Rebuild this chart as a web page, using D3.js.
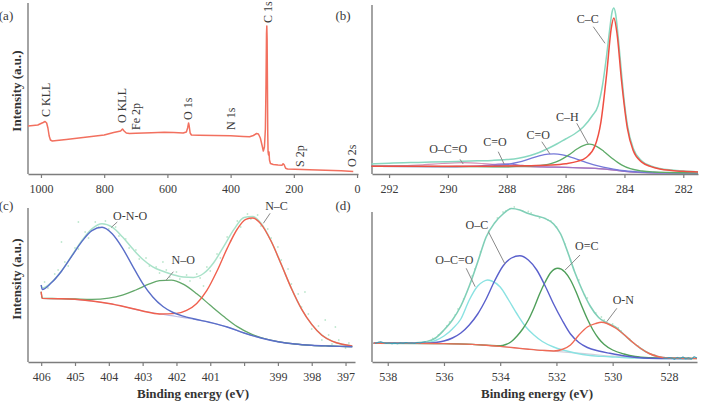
<!DOCTYPE html>
<html><head><meta charset="utf-8">
<script src="https://cdn.jsdelivr.net/npm/d3@7"></script>
<style>
body{margin:0;background:#fff}
svg{display:block}
text{font-family:"Liberation Serif","Times New Roman",serif;fill:#3a3a3a}
</style>
</head><body>
<svg id="chart" width="702" height="406"></svg>
<script>
// ---------------- DATA ----------------
// (a) survey spectrum: [binding energy eV, intensity a.u.]
const surveyA = [[1041,48],[1025,48.5],[1010,49],[1000,50.5],[993,51.5],[987,52.5],[982,51],[978,46],[974,38],[970,34],[964,33],[950,33.5],[920,34.5],[880,36],[840,37.5],[800,39],[770,41.5],[755,42.5],[748,43],[742,45],[737,43],[730,41],[720,40.5],[700,40.8],[650,41.3],[610,41.8],[580,41.5],[550,41],[540,42],[536,46],[533,51],[531,48],[528,41],[524,39],[500,38.8],[450,38.5],[400,38.2],[360,37.5],[340,37.2],[328,38.5],[318,40.5],[312,40],[306,36],[300,28],[296.5,23],[293,27],[290,45],[288,90],[286.5,140],[285.5,148],[284.5,135],[283.5,90],[282.5,40],[281.5,22],[280,19],[278.5,22],[277,14],[274,10.5],[265,9.5],[250,9],[237,8.8],[234,10.3],[231,9.5],[226,5.8],[220,5],[150,4.3],[100,3.8],[50,3.2],[12,2.5]];
const surveyLabels = ["C KLL","O KLL","Fe 2p","O 1s","N 1s","C 1s","S 2p","O 2s"];
const ticksA = [1000,800,600,400,200,0];

// (b) C 1s high resolution
const envB = [[292.6,10],[292,10.8],[291,11.6],[290,12.3],[289.5,12.8],[289,13.2],[288.5,13.6],[288,14.4],[287.6,15.8],[287.2,18.5],[286.9,21.5],[286.6,25.5],[286.3,30],[286,35],[285.7,40],[285.4,47],[285.1,58],[284.9,68],[284.75,88],[284.6,120],[284.5,145],[284.42,162],[284.36,166],[284.3,160],[284.2,133],[284.1,101],[284,71],[283.9,49],[283.7,25.5],[283.4,12.8],[283.1,8],[282.8,5.5],[282.4,3.9],[282,2.9],[281.5,2.1]];
const ccB = [[292.6,7.8],[291,7.7],[290,7.7],[289,7.8],[288,8],[287,8.5],[286.5,9],[286,10.3],[285.6,12.6],[285.3,16.5],[285,28.2],[284.8,51.9],[284.6,101.4],[284.45,145.4],[284.36,156],[284.25,139.9],[284.1,93.5],[283.9,45.6],[283.7,23.2],[283.4,11.6],[283.1,7.4],[282.8,5.1],[282.4,3.6],[282,2.7],[281.5,2]];
const chB = [[292.6,7.6],[289,7.3],[288,7.2],[287.5,7.8],[287,8.3],[286.5,10.4],[286.2,13.7],[285.9,18.9],[285.6,25.2],[285.4,28.4],[285.18,29.8],[284.95,27.7],[284.7,22.6],[284.4,15.3],[284.1,9.1],[283.8,5.3],[283.4,3],[283,2],[282.5,1.5],[281.5,1.1]];
const co286B = [[292.6,7.6],[290,7.4],[289.5,7.55],[289,7.6],[288.5,8.05],[288,9.5],[287.6,11.8],[287.2,15.35],[286.9,18.05],[286.6,19.85],[286.4,20.15],[286.1,19.1],[285.8,16.65],[285.5,13.6],[285.2,10.55],[284.9,8.15],[284.5,5.6],[284.1,3.5],[283.5,2],[282.5,1.1],[281.5,0.9]];
const co288B = [[292.6,7.6],[290,7.4],[289.5,7.45],[289,7.9],[288.6,8.9],[288.3,9.9],[288.1,10.2],[287.9,10],[287.6,9],[287.2,7.7],[286.8,7.1],[286,6.6],[285,5.6],[284.5,4.4],[284,2.6],[283,1.2],[281.5,0.8]];
const ocoB = [[292.6,7.9],[291.5,8.3],[290.8,9.3],[290.2,10.5],[289.5,11.3],[288.8,10.4],[288.2,9],[287.6,7.9],[287,7.3],[286,6.7],[285,5.7],[284.5,4.4],[284,2.7],[283,1.2],[281.5,0.8]];
const bgB = [[292.6,7.6],[291,7.5],[290,7.4],[289,7.3],[288,7.2],[287,7],[286,6.6],[285.5,6.2],[285,5.6],[284.6,4.8],[284.36,4],[284.1,3],[283.7,2],[283.2,1.3],[282.5,1],[281.5,0.8]];
const labelsB = ["C–C","C–H","C=O","C=O","O–C=O"];
const ticksB = [292,290,288,286,284,282];

// (c) N 1s
const envC = [[406,77],[405.97,74],[405.7,79.5],[405.4,91],[405.1,106],[404.8,121.2],[404.5,133.1],[404.2,138.2],[403.9,134.8],[403.6,125.2],[403.3,113.4],[403,102.7],[402.7,95.2],[402.4,90.7],[402.1,87.3],[401.8,84.9],[401.5,84.6],[401.2,88.5],[400.9,99.3],[400.6,115.6],[400.3,132.6],[400,144.6],[399.75,145.5],[399.5,138.7],[399.2,121],[398.9,97.7],[398.6,73.6],[398.3,53],[398,37.6],[397.7,26.8],[397.4,20.9],[397.1,17.7],[396.8,16.1]];
const onoC = [[406,77],[405.97,72.5],[405.7,79.2],[405.4,90.8],[405.1,105.6],[404.8,120.4],[404.5,131.4],[404.2,134.7],[403.9,128.2],[403.6,114.1],[403.3,96.2],[403,78.7],[402.7,65],[402.4,55.5],[402.1,49.5],[401.8,45.9],[401.5,43.3],[401,39.5],[400.5,35],[400,29],[399.5,24],[399,20.3],[398.5,18],[398,16.7],[397.5,16],[397,15.5],[396.8,15.3]];
const noC = [[406,70.3],[405.97,63.7],[405.5,63.4],[405,63],[404.5,62.7],[404,63.9],[403.6,66.8],[403.2,72],[402.8,78.1],[402.5,81.3],[402.15,81.9],[401.8,77.8],[401.4,68.2],[401,56.7],[400.6,45.5],[400.2,35.4],[399.8,28.2],[399.4,23.5],[399,20.4],[398.5,18],[398,16.7],[397.5,16],[397,15.5],[396.8,15.3]];
const ncC = [[406,70.3],[405.97,63.6],[405.5,63.3],[405,62.7],[404.5,61],[404,58.5],[403.5,55],[403,51],[402.5,48],[402,48.6],[401.7,51.6],[401.4,58.6],[401.1,71.6],[400.8,91],[400.5,113.6],[400.2,133],[399.95,142.6],[399.75,144],[399.5,137.9],[399.2,120.7],[398.9,97.5],[398.6,73.5],[398.3,52.9],[398,37.6],[397.7,26.8],[397.4,20.9],[397.1,17.7],[396.8,16.1]];
const bgC = [[406,70.3],[405.97,63.5],[405.5,63.3],[405,62.7],[404.5,61],[404,58.5],[403.5,55],[403,51],[402.5,48],[402,45.5],[401.5,42.8],[401,39.5],[400.5,35],[400,29],[399.5,24],[399,20.3],[398.5,18],[398,16.7],[397.5,16],[397,15.5],[396.8,15.3]];
const rawC = [[405.9,80],[405.8,74],[405.6,88],[405.5,92],[405.4,120],[405.3,100],[405.2,96],[405,114],[404.9,113],[404.9,140],[404.7,130],[404.6,124],[404.4,140],[404.3,135],[404.1,141],[404,133],[403.8,135],[403.7,126],[403.5,123],[403.4,114],[403.2,112],[403.1,103],[402.9,104],[402.8,96],[402.6,95],[402.5,89],[402.4,100],[402.3,92],[402.2,85],[402,90],[401.9,83],[401.7,87],[401.6,81],[401.4,88],[401.3,84],[401.2,76],[401.1,95],[401,91],[400.8,108],[400.7,104],[400.5,125],[400.4,121],[400.2,141],[400.1,135],[399.9,148],[399.8,143],[399.6,147],[399.5,136],[399.3,133],[399.2,124],[399,115],[398.9,102],[398.7,93],[398.6,78],[398.4,68],[398.3,55],[398.2,70],[398.1,48],[398,33],[397.8,36],[397.7,22],[397.6,42],[397.5,27],[397.4,18],[397.3,35],[397.2,22],[397,14],[396.9,19]];
const labelsC = ["O-N-O","N–O","N–C"];
const ticksC = [406,405,404,403,402,401,400,399,398,397];
const tickLabelsC = ["406","405","404","403","402","401","","399","398","397"];

// (d) O 1s
const envD = [[538.5,18.7],[537.5,18.8],[537,19.2],[536.6,20.5],[536.3,24],[536,32],[535.7,42],[535.4,56],[535.1,76],[534.8,100],[534.5,125],[534.2,139],[533.9,148],[533.6,153.5],[533.3,152],[533,148.5],[532.7,146],[532.4,143.5],[532.1,138],[531.85,128],[531.6,110],[531.35,90],[531.1,73],[530.8,56],[530.5,44.5],[530.2,39],[529.9,35],[529.6,27.5],[529.3,20],[529,13.5],[528.7,8.5],[528.4,5.5],[528,4],[527,3.5]];
const ocoD = [[538.5,18.7],[537,18.8],[536.6,19.3],[536.3,21.5],[536,26],[535.7,33],[535.4,43],[535.1,62],[534.8,76],[534.6,80.5],[534.45,82],[534.3,81],[534,75],[533.7,62],[533.4,48],[533.1,35.5],[532.8,27],[532.5,20.5],[532.1,15],[531.7,11.5],[531.3,8.7],[530.8,6.5],[530.1,5.3],[529.5,4.2],[528.9,3.8],[528,3.5],[527.2,3.4]];
const ocD = [[538.5,18.7],[537,18.7],[536.6,18.8],[536.3,19.5],[536,21],[535.7,24],[535.4,29],[535.1,37],[534.8,48],[534.5,63],[534.2,81],[533.9,96],[533.6,104],[533.3,106.3],[533,102],[532.7,92],[532.4,76],[532.1,58],[531.8,42],[531.5,28],[531.2,19.5],[530.9,14.5],[530.5,11],[530.1,8.7],[529.5,5.8],[528.9,4],[528,3.5],[527.2,3.4]];
const oecD = [[538.5,18.7],[536,18.4],[535,17.6],[534.4,16.6],[534,16.2],[533.8,17.5],[533.6,20.5],[533.4,26],[533.2,33],[533,42],[532.8,54],[532.6,68],[532.4,80],[532.2,89.5],[531.95,93.7],[531.7,90],[531.5,82],[531.3,70],[531.1,56],[530.9,43],[530.7,32],[530.5,23.5],[530.3,17.5],[530,12],[529.6,8],[529.2,5.5],[528.6,4.2],[528,3.7],[527.2,3.5]];
const onD = [[538.5,18.7],[537,18.6],[536,18.4],[535,17.6],[534.5,16.8],[534,15.6],[533.5,14.2],[533,12.8],[532.5,11.6],[532.1,11],[531.8,12.5],[531.5,17],[531.2,27],[530.9,35],[530.6,38.5],[530.4,39.7],[530.2,38.5],[529.9,34],[529.6,27.5],[529.3,20],[529,13.5],[528.7,8.5],[528.4,5.5],[528,4],[527.6,3.7],[527,3.5]];
const bgD = [[538.5,18.7],[536,18.4],[535,17.6],[534,15.6],[533,12.8],[532,10.6],[531,8.4],[530,5.8],[529,4.3],[528,3.8],[527,3.5]];
const rawLeftD = [[538.45,18.5],[538.35,19.6],[538.25,20.3],[538.15,19.2],[538.05,18.6],[537.95,19],[537.85,18.4],[537.75,18.9],[537.65,18.3],[537.55,19.1],[537.45,18.6],[537.35,19.4],[537.25,18.8],[537.15,19],[537.05,18.5],[536.95,19.5],[536.85,19],[536.75,19.8],[536.65,20.2]];
const rawRightD = [[528.2,4.2],[528.1,3.6],[528,4.5],[527.9,3.9],[527.8,2.8],[527.7,4.6],[527.6,3.5],[527.5,5],[527.4,3.2],[527.3,4.2],[527.2,2.9],[527.1,5.2],[527,4]];
const rawDotsD = [[536.4,23.5],[536.2,27],[535.9,36],[535.8,40],[535.6,47],[535.5,53],[535.3,63],[535,86],[534.9,93],[534.7,110],[534.4,131],[534.1,144],[533.9,150],[533.8,151],[533.5,155],[533.2,151],[533,150.5],[532.9,149],[532.6,144],[532.3,142],[532.2,141],[532,135],[531.7,118],[531.5,102],[531.2,82],[531,67],[530.9,64],[530.6,49],[530.4,45],[530.3,42],[530,38],[529.8,34],[529.7,31],[529.4,23],[529.1,16],[528.8,10],[528.5,7]];
const labelsD = ["O–C","O–C=O","O=C","O-N"];
const ticksD = [538,536,534,532,530,528];

// ---------------- DRAWING ----------------
const svg = d3.select("#chart");
const AX = "#7d7d7d";

function panel(xd, xr, yd, yr, ticks, fmt) {
  const x = d3.scaleLinear().domain(xd).range(xr);
  const y = d3.scaleLinear().domain(yd).range(yr);
  const g = svg.append("g");
  const ax = g.append("g").attr("transform", `translate(0,${yr[0]})`)
    .call(d3.axisBottom(x).tickValues(ticks).tickSize(4).tickPadding(6).tickSizeOuter(0).tickFormat(fmt || (d => d)));
  ax.select(".domain").attr("stroke", AX).attr("stroke-width", 1.4);
  ax.selectAll(".tick line").attr("stroke", AX).attr("stroke-width", 1.2);
  ax.selectAll(".tick text").attr("fill", "#3a3a3a").style("font-size", "12px")
    .style("font-family", '"Liberation Serif","Times New Roman",serif');
  g.append("line").attr("x1", xr[0]).attr("x2", xr[0]).attr("y1", yr[0]).attr("y2", yr[1])
    .attr("stroke", AX).attr("stroke-width", 1.4);
  return {x, y, g};
}

function curve(p, data, color, w, curveType) {
  const line = d3.line().x(d => p.x(d[0])).y(d => p.y(d[1])).curve(curveType || d3.curveMonotoneX);
  p.g.append("path").datum(data).attr("d", line).attr("fill", "none")
    .attr("stroke", color).attr("stroke-width", w || 1.3).attr("stroke-linejoin", "round");
}
function dots(p, data, color) {
  p.g.selectAll(null).data(data).enter().append("circle")
    .attr("cx", d => p.x(d[0])).attr("cy", d => p.y(d[1])).attr("r", 0.9).attr("fill", color);
}
function label(p, txt, ex, vy, size) {
  p.g.append("text").attr("x", p.x(ex)).attr("y", p.y(vy)).attr("dy", "0.35em")
    .attr("text-anchor", "middle").style("font-size", (size || 12) + "px").text(txt);
}
function pointer(p, e1, v1, e2, v2) {
  p.g.append("line").attr("x1", p.x(e1)).attr("y1", p.y(v1)).attr("x2", p.x(e2)).attr("y2", p.y(v2))
    .attr("stroke", "#8a8a8a").attr("stroke-width", 1);
}
function vlabel(p, txt, ex, vy) {
  p.g.append("text").attr("transform", `translate(${p.x(ex)},${p.y(vy)}) rotate(-90)`)
    .attr("dy", "0.35em").style("font-size", "12px").text(txt);
}

// Panel (a)
const pa = panel([1041, -3], [28, 358], [0, 171], [174, 3], ticksA);
curve(pa, surveyA, "#f2705f", 1.5, d3.curveLinear);
const posA = [[984,57],[744.7,51],[700.4,44],[534,54],[399,44],[281,151],[180.6,7],[17,7]];
surveyLabels.forEach((t, i) => vlabel(pa, t, posA[i][0], posA[i][1]));

// Panel (b)
const pb = panel([292.58, 281.5], [372, 698], [0, 169], [174, 5], ticksB);
curve(pb, bgB, "#c4c4c4", 1.2);
curve(pb, ocoB, "#d593b8", 1.2);
curve(pb, co288B, "#a074c8", 1.2);
curve(pb, co286B, "#7478d8", 1.3);
curve(pb, chB, "#5eab68", 1.3);
curve(pb, envB, "#88d8c0", 1.5);
curve(pb, ccB, "#ef4f42", 1.5);
const posB = [[285.25,155.7],[285.94,57.3],[286.93,39.7],[288.4,32.3],[289.99,25.7]];
const ptrB = [[285.06,147.3,284.66,130.7],[285.62,50.7,285.23,30],[286.81,32.3,286.53,20],[288.29,22.3,288.09,10],[289.59,14.7,289.48,10]];
labelsB.forEach((t, i) => { label(pb, t, posB[i][0], posB[i][1]); pointer(pb, ...ptrB[i]); });

// Panel (c)
const pc = panel([406.39, 396.72], [28, 355], [0, 154], [362, 208], ticksC, (d, i) => tickLabelsC[i]);
dots(pc, rawC, "#bfe8cf");
curve(pc, bgC, "#bcbce6", 1.2);
curve(pc, envC, "#a9e2c9", 1.5);
curve(pc, noC, "#63a86a", 1.3);
curve(pc, ncC, "#f0604e", 1.4);
curve(pc, onoC, "#5a6ec8", 1.4);
const posC = [[403.37,146],[401.8,102],[399.04,156]];
const ptrC = [[403.75,140,403.93,134.5],[402.09,90.3,402.32,81.3],[399.23,148.7,399.43,138.7]];
labelsC.forEach((t, i) => { label(pc, t, posC[i][0], posC[i][1]); pointer(pc, ...ptrC[i]); });

// Panel (d)
const pd = panel([538.56, 527.0], [372, 697], [0, 150], [362, 212], ticksD);
dots(pd, rawDotsD, "#bfe6cf");
curve(pd, bgD, "#d0d0dc", 1.2);
curve(pd, envD, "#80cfb7", 1.6);
curve(pd, ocoD, "#8ae2e2", 1.4);
curve(pd, oecD, "#4f9f5a", 1.4);
curve(pd, ocD, "#5a60cc", 1.4);
curve(pd, onD, "#f06a55", 1.4);
curve(pd, rawLeftD, "#3d9fb5", 1.1, d3.curveLinear);
curve(pd, rawRightD, "#3d9fb5", 1.1, d3.curveLinear);
const posD = [[534.83,137.7],[535.63,102],[530.92,116],[529.62,62]];
const ptrD = [[534.42,130.3,533.83,98],[535.21,93.7,534.89,75.3],[531.16,107,531.69,92],[529.85,53.7,530.21,40.3]];
labelsD.forEach((t, i) => { label(pd, t, posD[i][0], posD[i][1]); pointer(pd, ...ptrD[i]); });

// Panel letters & axis titles
[["(a)",6,15],["(b)",343,15],["(c)",6,205],["(d)",343,205]].forEach(([t, px, py]) =>
  svg.append("text").attr("x", px).attr("y", py).attr("dy", "0.35em").attr("text-anchor", "middle")
    .style("font-size", "13px").text(t));
[[91],[279]].forEach(([cy]) =>
  svg.append("text").attr("transform", `translate(16,${cy}) rotate(-90)`).attr("dy", "0.35em")
    .attr("text-anchor", "middle").style("font-size", "13px").style("font-weight", "bold")
    .style("fill", "#333").text("Intensity (a.u.)"));
[[193],[537]].forEach(([cx]) =>
  svg.append("text").attr("x", cx).attr("y", 398).attr("text-anchor", "middle")
    .style("font-size", "13px").style("font-weight", "bold").style("fill", "#333").text("Binding energy (eV)"));
</script>
</body></html>
